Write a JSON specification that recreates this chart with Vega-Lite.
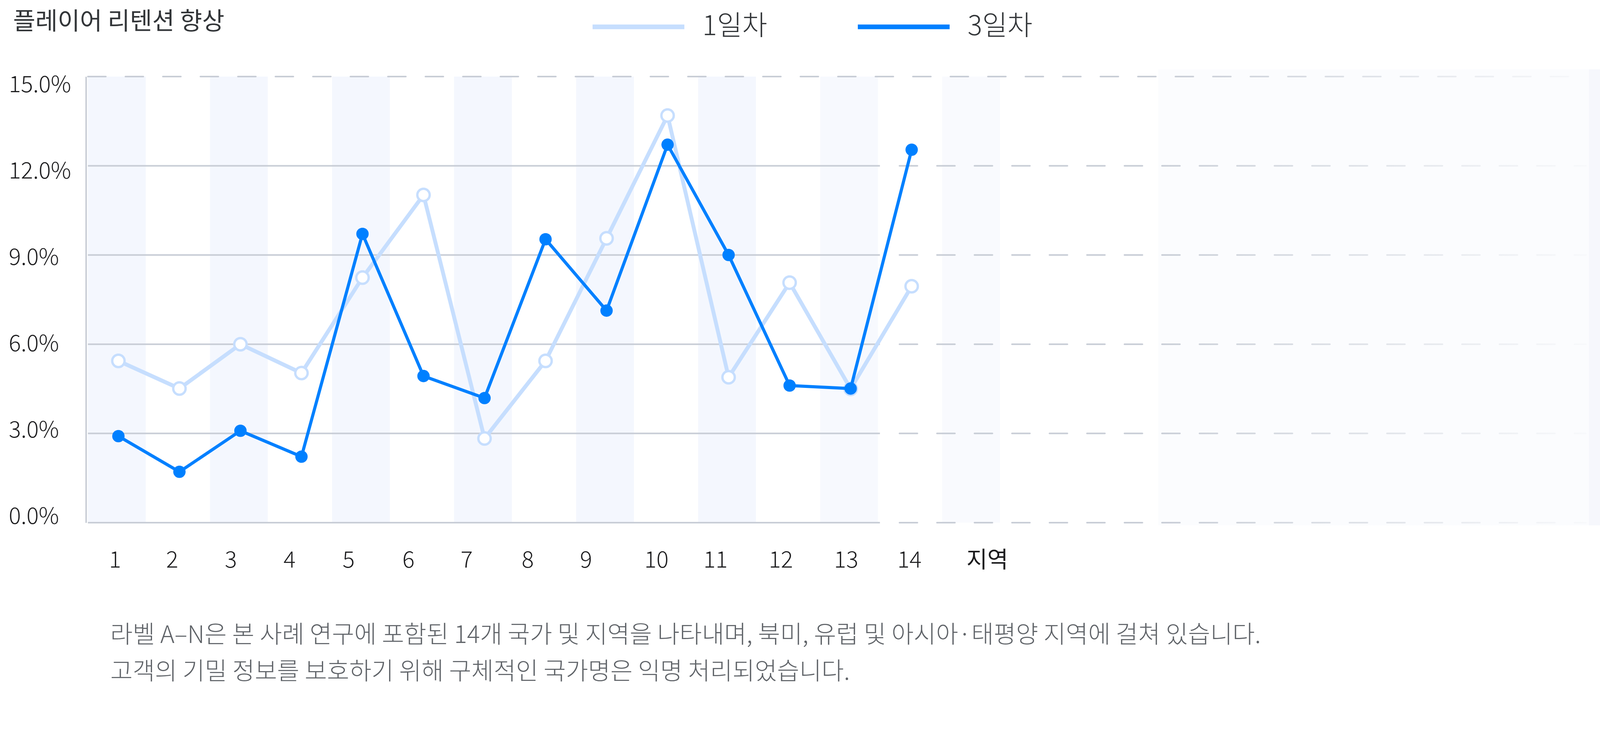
{
  "$schema": "https://vega.github.io/schema/vega-lite/v6.json",
  "width": 3984,
  "height": 1142,
  "autosize": {"type": "none"},
  "padding": {"left": 220, "top": 196, "right": 0, "bottom": 541},
  "background": "white",
  "config": {
    "view": {"stroke": null},
    "font": "Noto Sans CJK KR"
  },
  "datasets": {
    "bands": [
      {"k": 1}, {"k": 3}, {"k": 5}, {"k": 7}, {"k": 9}, {"k": 11}, {"k": 13}, {"k": 15}
    ],
    "grid": [
      {"v": 0}, {"v": 3}, {"v": 6}, {"v": 9}, {"v": 12}, {"v": 15}
    ],
    "retention": [
      {"region": 1, "series": "1일차", "rate": 5.44},
      {"region": 2, "series": "1일차", "rate": 4.51},
      {"region": 3, "series": "1일차", "rate": 6.0},
      {"region": 4, "series": "1일차", "rate": 5.03},
      {"region": 5, "series": "1일차", "rate": 8.24},
      {"region": 6, "series": "1일차", "rate": 11.02},
      {"region": 7, "series": "1일차", "rate": 2.83},
      {"region": 8, "series": "1일차", "rate": 5.44},
      {"region": 9, "series": "1일차", "rate": 9.56},
      {"region": 10, "series": "1일차", "rate": 13.69},
      {"region": 11, "series": "1일차", "rate": 4.89},
      {"region": 12, "series": "1일차", "rate": 8.07},
      {"region": 13, "series": "1일차", "rate": 4.5},
      {"region": 14, "series": "1일차", "rate": 7.95},
      {"region": 1, "series": "3일차", "rate": 2.91},
      {"region": 2, "series": "3일차", "rate": 1.71},
      {"region": 3, "series": "3일차", "rate": 3.09},
      {"region": 4, "series": "3일차", "rate": 2.22},
      {"region": 5, "series": "3일차", "rate": 9.71},
      {"region": 6, "series": "3일차", "rate": 4.93},
      {"region": 7, "series": "3일차", "rate": 4.19},
      {"region": 8, "series": "3일차", "rate": 9.53},
      {"region": 9, "series": "3일차", "rate": 7.13},
      {"region": 10, "series": "3일차", "rate": 12.71},
      {"region": 11, "series": "3일차", "rate": 9.0},
      {"region": 12, "series": "3일차", "rate": 4.61},
      {"region": 13, "series": "3일차", "rate": 4.51},
      {"region": 14, "series": "3일차", "rate": 12.54}
    ]
  },
  "layer": [
    {
      "data": {"name": "bands"},
      "mark": {"type": "bar", "size": 148, "xOffset": -4},
      "encoding": {
        "x": {
          "field": "k",
          "type": "quantitative",
          "scale": {"domain": [0.5, 25.94], "nice": false, "zero": false},
          "axis": {
            "values": [1, 2, 3, 4, 5, 6, 7, 8, 9, 10, 11, 12, 13, 14, 15],
            "labelExpr": "datum.value == 15 ? '지역' : format(datum.value, 'd')",
            "domain": false,
            "ticks": false,
            "grid": false,
            "labelPadding": 68,
            "labelFontSize": 58,
            "labelColor": "#1d1d1f",
            "labelFontWeight": {"condition": {"test": "datum.value == 15", "value": 400}, "value": 300},
            "labelOffset": {
              "condition": [
                {"test": "datum.value == 1", "value": -9},
                {"test": "datum.value == 2", "value": -19},
                {"test": "datum.value == 3", "value": -25},
                {"test": "datum.value == 4", "value": -31},
                {"test": "datum.value == 5", "value": -36},
                {"test": "datum.value == 6", "value": -39},
                {"test": "datum.value == 7 || datum.value == 8", "value": -46},
                {"test": "datum.value == 9", "value": -53},
                {"test": "datum.value == 10", "value": -29},
                {"test": "datum.value == 11", "value": -34},
                {"test": "datum.value == 12", "value": -23},
                {"test": "datum.value == 13", "value": -12},
                {"test": "datum.value == 14", "value": -6},
                {"test": "datum.value == 15", "value": 37}
              ],
              "value": 0
            },
            "labelFlush": false,
            "labelOverlap": false,
            "title": [
              "라벨 A–N은 본 사례 연구에 포함된 14개 국가 및 지역을 나타내며, 북미, 유럽 및 아시아·태평양 지역에 걸쳐 있습니다.",
              "고객의 기밀 정보를 보호하기 위해 구체적인 국가명은 익명 처리되었습니다."
            ],
            "titleX": 62,
            "titleY": 307,
            "titleAlign": "left",
            "titleBaseline": "alphabetic",
            "titleFontSize": 62,
            "titleFontWeight": 300,
            "titleColor": "#5f6368",
            "titleLineHeight": 94
          }
        },
        "y": {
          "datum": 15,
          "type": "quantitative",
          "scale": {"domain": [0, 15], "nice": false},
          "axis": {
            "values": [0, 3, 6, 9, 12, 15],
            "labelExpr": "format(datum.value, '.1f') + '%'",
            "grid": false,
            "ticks": false,
            "domainColor": "#c8cdd6",
            "domainWidth": 4,
            "labelAlign": "left",
            "labelBaseline": "middle",
            "labelPadding": 198,
            "labelFontSize": 58,
            "labelFontWeight": 300,
            "labelColor": "#1d1d1f",
            "labelOffset": {
              "condition": [
                {"test": "datum.value >= 14", "value": 22},
                {"test": "datum.value >= 11", "value": 15},
                {"test": "datum.value >= 8", "value": 8},
                {"test": "datum.value <= 1", "value": -15},
                {"test": "datum.value <= 4", "value": -7}
              ],
              "value": 0
            },
            "title": "플레이어 리텐션 향상",
            "titleAngle": 0,
            "titleX": -187,
            "titleY": -121,
            "titleAlign": "left",
            "titleBaseline": "alphabetic",
            "titleFontSize": 62,
            "titleFontWeight": 400,
            "titleColor": "#333639"
          }
        },
        "y2": {"datum": 0},
        "fill": {
          "condition": [
            {"test": "datum.k >= 15", "value": "#f9fafe"},
            {"test": "datum.k >= 13", "value": "#f7f9fe"}
          ],
          "value": "#f4f7fe"
        }
      }
    },
    {
      "data": {"values": [{}]},
      "mark": {"type": "rect", "fill": "#fbfcfe"},
      "encoding": {
        "x": {"datum": 18.04, "type": "quantitative"},
        "x2": {"datum": 25.94},
        "y": {"datum": 15.24, "type": "quantitative"},
        "y2": {"datum": -0.09}
      }
    },
    {
      "data": {"name": "grid"},
      "transform": [{"filter": "datum.v < 15"}],
      "mark": {"type": "rule", "color": "#c8cdd6", "strokeWidth": 4},
      "encoding": {
        "x": {"datum": 0.5, "type": "quantitative"},
        "x2": {"datum": 13.48},
        "y": {"field": "v", "type": "quantitative"}
      }
    },
    {
      "data": {"name": "grid"},
      "transform": [{"filter": "datum.v < 15"}],
      "mark": {"type": "rule", "color": "#c8cdd6", "strokeWidth": 4, "strokeDash": [46, 50], "strokeDashOffset": 46, "strokeCap": "round"},
      "encoding": {
        "x": {"datum": 13.48, "type": "quantitative"},
        "x2": {"datum": 25.05},
        "y": {"field": "v", "type": "quantitative"}
      }
    },
    {
      "data": {"name": "grid"},
      "transform": [{"filter": "datum.v == 15"}],
      "mark": {"type": "rule", "color": "#c8cdd6", "strokeWidth": 4, "strokeDash": [46, 50], "strokeCap": "round"},
      "encoding": {
        "x": {"datum": 0.5, "type": "quantitative"},
        "x2": {"datum": 25.05},
        "y": {"field": "v", "type": "quantitative"}
      }
    },
    {
      "data": {"values": [{}]},
      "mark": {
        "type": "rect",
        "fill": {
          "gradient": "linear",
          "x1": 0, "y1": 0, "x2": 1, "y2": 0,
          "stops": [
            {"offset": 0, "color": "rgba(251,252,254,0)"},
            {"offset": 0.88, "color": "rgba(251,252,254,0.92)"},
            {"offset": 1, "color": "rgba(251,252,254,1)"}
          ]
        }
      },
      "encoding": {
        "x": {"datum": 18.04, "type": "quantitative"},
        "x2": {"datum": 25.94},
        "y": {"datum": 15.24, "type": "quantitative"},
        "y2": {"datum": -0.09}
      }
    },
    {
      "data": {"values": [{}]},
      "mark": {"type": "rect", "fill": "#f6f7fc"},
      "encoding": {
        "x": {"datum": 25.1, "type": "quantitative"},
        "x2": {"datum": 25.94},
        "y": {"datum": 15.24, "type": "quantitative"},
        "y2": {"datum": -0.09}
      }
    },
    {
      "data": {"name": "retention"},
      "transform": [{"filter": "datum.series == '1일차'"}],
      "mark": {"type": "line", "strokeWidth": 10, "strokeJoin": "round", "strokeCap": "round"},
      "encoding": {
        "x": {"field": "region", "type": "quantitative"},
        "y": {"field": "rate", "type": "quantitative"},
        "color": {
          "field": "series",
          "type": "nominal",
          "scale": {"domain": ["1일차", "3일차"], "range": ["#c6defe", "#0080ff"]},
          "legend": {
            "orient": "none",
            "legendX": 1291,
            "legendY": -251,
            "direction": "horizontal",
            "title": null,
            "symbolType": "stroke",
            "symbolSize": 55225,
            "symbolStrokeWidth": 12,
            "labelFontSize": 70,
            "labelFontWeight": 300,
            "labelColor": "#333639",
            "labelOffset": 40,
            "columnPadding": 207,
            "labelLimit": 400
          }
        }
      }
    },
    {
      "data": {"name": "retention"},
      "transform": [{"filter": "datum.series == '1일차'"}],
      "mark": {"type": "circle", "size": 1000, "fill": "white", "stroke": "#c6defe", "strokeWidth": 6, "opacity": 1},
      "encoding": {
        "x": {"field": "region", "type": "quantitative"},
        "y": {"field": "rate", "type": "quantitative"}
      }
    },
    {
      "data": {"name": "retention"},
      "transform": [{"filter": "datum.series == '3일차'"}],
      "mark": {"type": "line", "strokeWidth": 8, "strokeJoin": "round", "strokeCap": "round"},
      "encoding": {
        "x": {"field": "region", "type": "quantitative"},
        "y": {"field": "rate", "type": "quantitative"},
        "color": {"field": "series", "type": "nominal"}
      }
    },
    {
      "data": {"name": "retention"},
      "transform": [{"filter": "datum.series == '3일차'"}],
      "mark": {"type": "circle", "size": 1000, "fill": "#0080ff", "opacity": 1},
      "encoding": {
        "x": {"field": "region", "type": "quantitative"},
        "y": {"field": "rate", "type": "quantitative"}
      }
    }
  ]
}
